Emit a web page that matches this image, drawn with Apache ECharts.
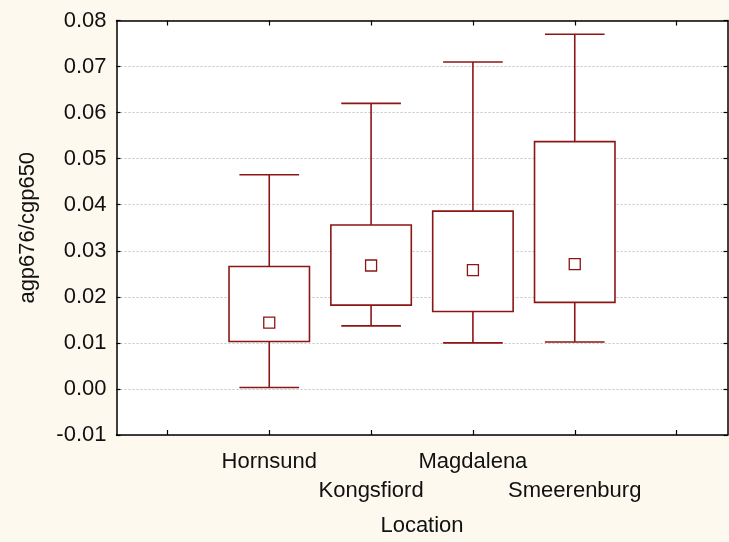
<!DOCTYPE html>
<html>
<head>
<meta charset="utf-8">
<title>agp676/cgp650 by Location</title>
<script src="https://cdn.jsdelivr.net/npm/echarts@6/dist/echarts.min.js"></script>
<style>
  html, body { margin: 0; padding: 0; background: #fdf9ee; }
  #chart { width: 729px; height: 542px; }
</style>
</head>
<body>
<div id="chart"></div>
<script>
// Category slots: one empty slot on each side frames the four locations.
const categories = ['', 'Hornsund', 'Kongsfiord', 'Magdalena', 'Smeerenburg', ''];
const locationIndex = [1, 2, 3, 4];

// Per-location statistics of agp676/cgp650
const whiskerLow  = [0.0003, 0.0137, 0.0100, 0.0102];
const boxLow      = [0.0103, 0.0182, 0.0168, 0.0188];
const boxHigh     = [0.0266, 0.0356, 0.0386, 0.0537];
const whiskerHigh = [0.0465, 0.0620, 0.0710, 0.0770];
const means       = [0.0144, 0.0268, 0.0258, 0.0271];

// Value axis range
const yMin = -0.01;
const yMax = 0.08;
const yStep = 0.01;

const boxData = locationIndex.map((c, i) => [c, whiskerLow[i], boxLow[i], boxHigh[i], whiskerHigh[i], means[i]]);

const LINE = '#8b1616';
const FONT = 'Liberation Sans, Arial, Helvetica, sans-serif';

function renderBox(params, api) {
  const c = api.value(0);
  const band = api.size([1, 0])[0];
  const pLow = api.coord([c, api.value(1)]);
  const pQ1 = api.coord([c, api.value(2)]);
  const pQ3 = api.coord([c, api.value(3)]);
  const pHigh = api.coord([c, api.value(4)]);
  const pMean = api.coord([c, api.value(5)]);
  const cx = pQ1[0];
  const boxHalf = band * 0.395;
  const capHalf = band * 0.293;
  const meanSize = 11;
  const lineStyle = { stroke: LINE, lineWidth: 1.6, fill: null };
  return {
    type: 'group',
    children: [
      { type: 'line', shape: { x1: cx, y1: pQ3[1], x2: cx, y2: pHigh[1] }, style: lineStyle },
      { type: 'line', shape: { x1: cx, y1: pQ1[1], x2: cx, y2: pLow[1] }, style: lineStyle },
      { type: 'line', shape: { x1: cx - capHalf, y1: pHigh[1], x2: cx + capHalf, y2: pHigh[1] }, style: lineStyle },
      { type: 'line', shape: { x1: cx - capHalf, y1: pLow[1], x2: cx + capHalf, y2: pLow[1] }, style: lineStyle },
      { type: 'rect', shape: { x: cx - boxHalf, y: pQ3[1], width: boxHalf * 2, height: pQ1[1] - pQ3[1] },
        style: { stroke: LINE, lineWidth: 1.6, fill: '#ffffff' } },
      { type: 'rect', shape: { x: cx - meanSize / 2, y: pMean[1] - meanSize / 2, width: meanSize, height: meanSize },
        style: { stroke: LINE, lineWidth: 1.3, fill: '#ffffff' } }
    ]
  };
}

const chart = echarts.init(document.getElementById('chart'), null, { renderer: 'canvas' });

const frameLine = { show: true, onZero: false, lineStyle: { color: '#000', width: 1.5 } };

chart.setOption({
  backgroundColor: '#fdf9ee',
  animation: false,
  textStyle: { fontFamily: FONT },
  grid: {
    left: 116.5, right: 1.5, top: 20.5, bottom: 104,
    show: true, backgroundColor: '#ffffff', borderWidth: 0
  },
  xAxis: [
    {
      type: 'category',
      data: categories,
      position: 'bottom',
      boundaryGap: true,
      axisLine: frameLine,
      axisTick: { show: true, inside: true, alignWithLabel: true, length: 5, lineStyle: { color: '#000', width: 1.2 } },
      axisLabel: {
        interval: 0,
        margin: 12,
        color: '#111',
        fontSize: 22,
        fontFamily: FONT,
        lineHeight: 29,
        formatter: (v, i) => (i % 2 === 0 ? '\n' + v : v)
      },
      splitLine: { show: false },
      name: 'Location',
      nameLocation: 'middle',
      nameGap: 80,
      nameTextStyle: { color: '#111', fontSize: 22, fontFamily: FONT }
    },
    {
      type: 'category',
      data: categories,
      position: 'top',
      boundaryGap: true,
      axisLine: frameLine,
      axisTick: { show: true, inside: true, alignWithLabel: true, length: 5, lineStyle: { color: '#000', width: 1.2 } },
      axisLabel: { show: false },
      splitLine: { show: false }
    }
  ],
  yAxis: [
    {
      type: 'value',
      position: 'left',
      min: yMin, max: yMax, interval: yStep,
      axisLine: frameLine,
      axisTick: { show: true, inside: true, length: 4, lineStyle: { color: '#000', width: 1.2 } },
      axisLabel: {
        margin: 10,
        color: '#111',
        fontSize: 22,
        fontFamily: FONT,
        formatter: v => v.toFixed(2)
      },
      splitLine: { show: true, lineStyle: { color: '#c4c4c4', width: 1, type: [2, 2] } },
      name: 'agp676/cgp650',
      nameLocation: 'middle',
      nameGap: 78,
      nameTextStyle: { color: '#111', fontSize: 22, fontFamily: FONT }
    },
    {
      type: 'value',
      position: 'right',
      min: yMin, max: yMax, interval: yStep,
      axisLine: frameLine,
      axisTick: { show: true, inside: true, length: 4, lineStyle: { color: '#000', width: 1.2 } },
      axisLabel: { show: false },
      splitLine: { show: false }
    }
  ],
  series: [
    {
      type: 'custom',
      xAxisIndex: 0,
      yAxisIndex: 0,
      renderItem: renderBox,
      encode: { x: 0, y: [1, 2, 3, 4, 5] },
      data: boxData,
      z: 5
    }
  ]
});
</script>
</body>
</html>
